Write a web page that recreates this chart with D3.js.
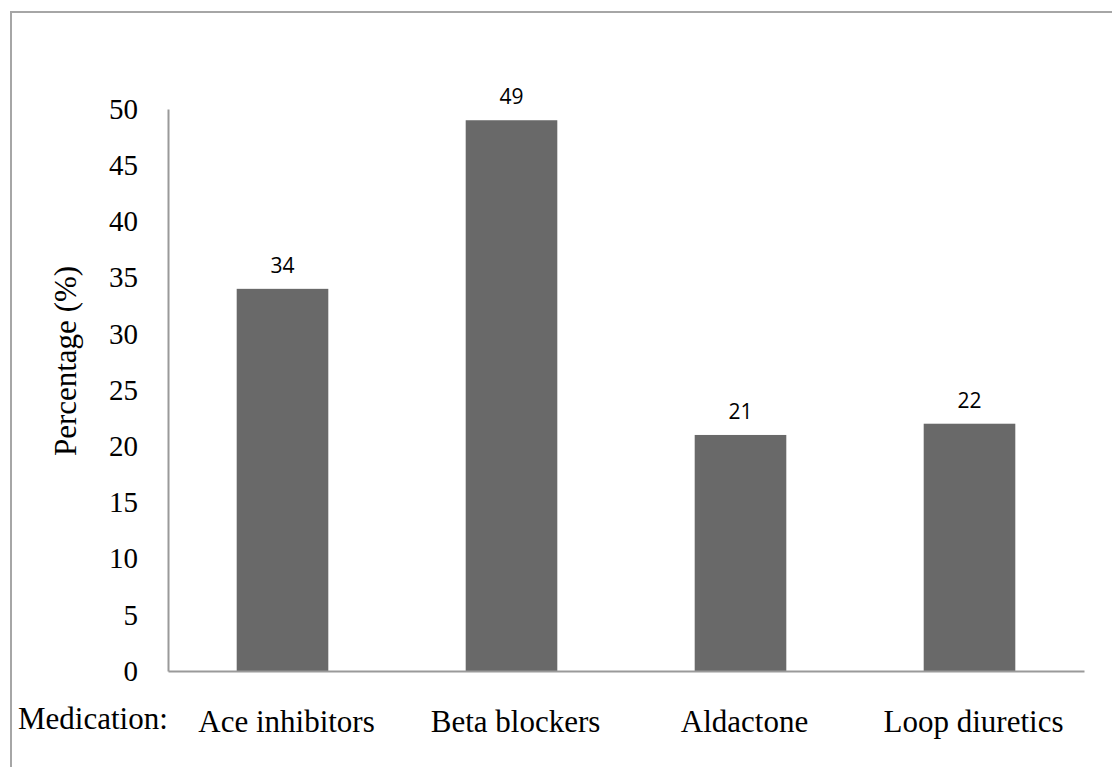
<!DOCTYPE html>
<html>
<head>
<meta charset="utf-8">
<script src="https://cdn.jsdelivr.net/npm/d3@7"></script>
<style>
  html, body { margin: 0; padding: 0; background: #fff; }
  svg { display: block; }
</style>
</head>
<body>
<svg id="chart" width="1112" height="767"></svg>
<script>
// Share of patients on each heart-failure medication class
const categories = ["Ace inhibitors", "Beta blockers", "Aldactone", "Loop diuretics"];
const values = [34, 49, 21, 22];
const yTicks = [0, 5, 10, 15, 20, 25, 30, 35, 40, 45, 50];
const axisTitle = "Percentage (%)";
const categoryTitle = "Medication:";

const svg = d3.select("#chart");
const serif = "'Liberation Serif', 'Times New Roman', serif";
const sans = "'Open Sans', 'Liberation Sans', sans-serif";

// Outer frame (runs off the right and bottom edges)
svg.append("rect")
  .attr("x", 11).attr("y", 12)
  .attr("width", 1200).attr("height", 900)
  .attr("fill", "none")
  .attr("stroke", "#a6a6a6")
  .attr("stroke-width", 2);

const plot = { left: 168, right: 1084, top: 109, bottom: 671 };

const x = d3.scaleBand()
  .domain(categories)
  .range([plot.left, plot.right])
  .paddingInner(0.6)
  .paddingOuter(0.3);

const y = d3.scaleLinear()
  .domain([0, 50])
  .range([plot.bottom, plot.top]);

// Bars
svg.append("g")
  .selectAll("rect")
  .data(values)
  .join("rect")
  .attr("x", (d, i) => x(categories[i]))
  .attr("y", d => y(d))
  .attr("width", x.bandwidth())
  .attr("height", d => y(0) - y(d))
  .attr("fill", "#696969");

// Value labels above bars
svg.append("g")
  .selectAll("text")
  .data(values)
  .join("text")
  .attr("x", (d, i) => x(categories[i]) + x.bandwidth() / 2)
  .attr("y", d => y(d) - 16)
  .attr("text-anchor", "middle")
  .attr("font-family", sans)
  .attr("font-size", 21)
  .attr("fill", "#000")
  .text(d => d);

// Y axis: line and tick labels, no tick marks
const yAxis = d3.axisLeft(y)
  .tickValues(yTicks)
  .tickSize(0)
  .tickPadding(30);
const gy = svg.append("g")
  .attr("transform", `translate(${plot.left},0)`)
  .call(yAxis);
gy.select(".domain").attr("stroke", "#9a9a9a").attr("stroke-width", 2);
gy.selectAll(".tick text")
  .attr("font-family", serif)
  .attr("font-size", 29)
  .attr("fill", "#000");

// X axis: baseline and category labels
const xAxis = d3.axisBottom(x).tickSize(0).tickPadding(39);
const gx = svg.append("g")
  .attr("transform", `translate(0,${plot.bottom})`)
  .call(xAxis);
gx.select(".domain").attr("stroke", "#9a9a9a").attr("stroke-width", 2);
gx.selectAll(".tick text")
  .attr("font-family", serif)
  .attr("font-size", 31)
  .attr("fill", "#000")
  .attr("dx", 4);

// Category axis title, placed at the start of the label row
svg.append("text")
  .attr("x", 18)
  .attr("y", 729)
  .attr("font-family", serif)
  .attr("font-size", 31)
  .attr("fill", "#000")
  .text(categoryTitle);

// Value axis title
svg.append("text")
  .attr("transform", "translate(76,361) rotate(-90)")
  .attr("text-anchor", "middle")
  .attr("font-family", serif)
  .attr("font-size", 31)
  .attr("fill", "#000")
  .text(axisTitle);
</script>
</body>
</html>
